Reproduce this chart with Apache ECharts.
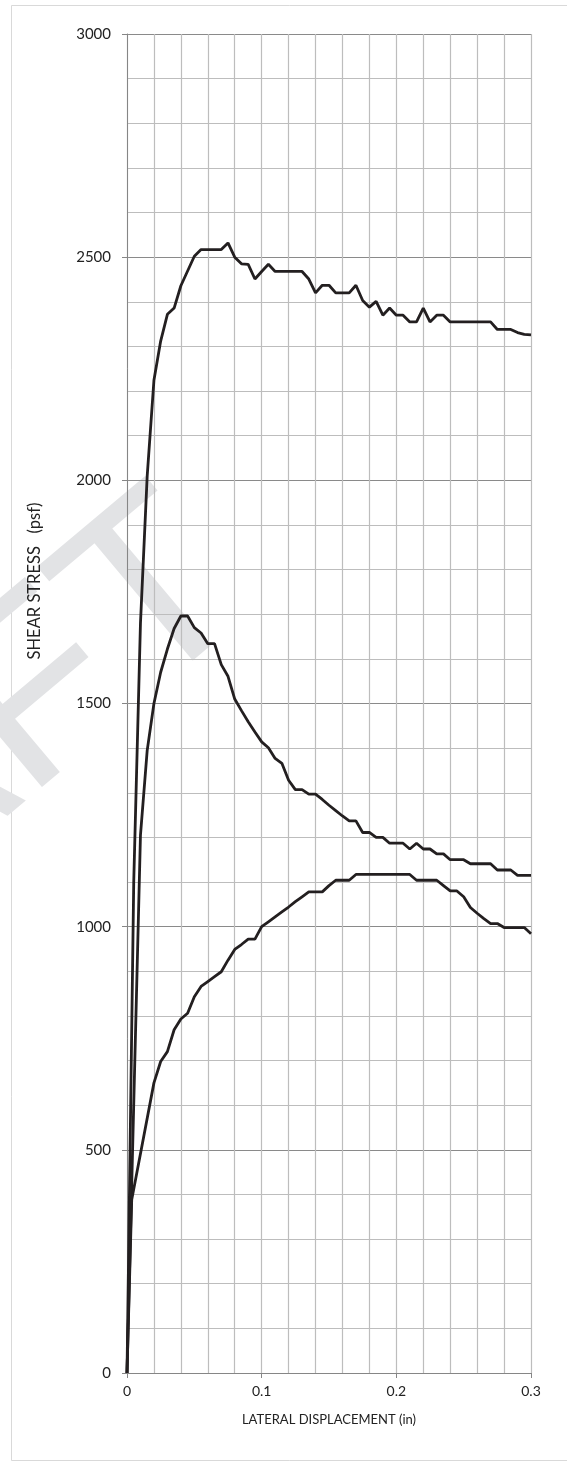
<!DOCTYPE html>
<html>
<head>
<meta charset="utf-8">
<script src="https://cdn.jsdelivr.net/npm/echarts@6/dist/echarts.min.js"></script>
<style>
html,body{margin:0;padding:0;background:#fff;}
#chart{width:567px;height:1466px;}
</style>
</head>
<body>
<div id="chart"></div>
<script>
// ---- data (lateral displacement in inches, shear stress in psf) ----
var xTickLabels = ['0', '0.1', '0.2', '0.3'];
var yTickLabels = ['0', '500', '1000', '1500', '2000', '2500', '3000'];

var topX = [0, 0.005, 0.01, 0.015, 0.02, 0.025, 0.03, 0.035, 0.04, 0.045, 0.05, 0.055, 0.06, 0.065, 0.07, 0.075, 0.08, 0.085, 0.09, 0.095, 0.1, 0.105, 0.11, 0.115, 0.12, 0.125, 0.13, 0.135, 0.14, 0.145, 0.15, 0.155, 0.16, 0.165, 0.17, 0.175, 0.18, 0.185, 0.19, 0.195, 0.2, 0.205, 0.21, 0.215, 0.22, 0.225, 0.23, 0.235, 0.24, 0.245, 0.25, 0.255, 0.26, 0.265, 0.27, 0.275, 0.28, 0.285, 0.29, 0.295, 0.3];
var topY = [0, 1100, 1680, 2010, 2224, 2312, 2372, 2386, 2436, 2469, 2502, 2517, 2517, 2517, 2517, 2532, 2500, 2485, 2484, 2451, 2468, 2484, 2468, 2468, 2468, 2468, 2468, 2451, 2420, 2437, 2437, 2420, 2420, 2420, 2437, 2403, 2388, 2401, 2370, 2386, 2370, 2370, 2355, 2355, 2386, 2355, 2370, 2370, 2355, 2355, 2355, 2355, 2355, 2355, 2355, 2338, 2338, 2338, 2331, 2327, 2326];

var midX = [0, 0.01, 0.015, 0.02, 0.025, 0.03, 0.035, 0.04, 0.045, 0.05, 0.055, 0.06, 0.065, 0.07, 0.075, 0.08, 0.085, 0.09, 0.095, 0.1, 0.105, 0.11, 0.115, 0.12, 0.125, 0.13, 0.135, 0.14, 0.145, 0.15, 0.155, 0.16, 0.165, 0.17, 0.175, 0.18, 0.185, 0.19, 0.195, 0.2, 0.205, 0.21, 0.215, 0.22, 0.225, 0.23, 0.235, 0.24, 0.245, 0.25, 0.255, 0.26, 0.265, 0.27, 0.275, 0.28, 0.285, 0.29, 0.295, 0.3];
var midY = [0, 1205, 1395, 1500, 1570, 1622, 1668, 1696, 1696, 1670, 1658, 1634, 1634, 1587, 1561, 1510, 1484, 1459, 1436, 1414, 1401, 1377, 1366, 1328, 1307, 1307, 1297, 1297, 1285, 1272, 1260, 1248, 1237, 1237, 1211, 1211, 1200, 1200, 1187, 1187, 1187, 1174, 1187, 1174, 1174, 1163, 1163, 1150, 1150, 1150, 1141, 1141, 1141, 1141, 1127, 1127, 1127, 1115, 1115, 1115];

var lowX = [0, 0.0035, 0.02, 0.025, 0.03, 0.035, 0.04, 0.045, 0.05, 0.055, 0.06, 0.065, 0.07, 0.075, 0.08, 0.085, 0.09, 0.095, 0.1, 0.105, 0.11, 0.115, 0.12, 0.125, 0.13, 0.135, 0.14, 0.145, 0.15, 0.155, 0.16, 0.165, 0.17, 0.175, 0.18, 0.185, 0.19, 0.195, 0.2, 0.205, 0.21, 0.215, 0.22, 0.225, 0.23, 0.235, 0.24, 0.245, 0.25, 0.255, 0.26, 0.265, 0.27, 0.275, 0.28, 0.285, 0.29, 0.295, 0.3];
var lowY = [0, 388, 650, 698, 720, 769, 793, 806, 843, 866, 877, 888, 899, 925, 949, 960, 972, 972, 1000, 1011, 1022, 1033, 1044, 1056, 1067, 1078, 1078, 1078, 1092, 1104, 1104, 1104, 1117, 1117, 1117, 1117, 1117, 1117, 1117, 1117, 1117, 1104, 1104, 1104, 1104, 1092, 1080, 1080, 1067, 1043, 1030, 1018, 1007, 1007, 998, 998, 998, 998, 984];

function pairs(xs, ys) { return xs.map(function (x, i) { return [x, ys[i]]; }); }

var chart = echarts.init(document.getElementById('chart'), null, {renderer: 'canvas'});
var FONT = 'Lato, "Open Sans", sans-serif';
var lineStyle = {color: '#231f20', width: 2.8};
var ang = 40 * Math.PI / 180;

chart.setOption({
  backgroundColor: '#fff',
  animation: false,
  grid: {left: 127, right: 36, top: 34, bottom: 93, containLabel: false},
  xAxis: {
    type: 'value', min: 0, max: 0.3, interval: 0.1,
    axisLine: {show: true, lineStyle: {color: '#868686', width: 1}},
    axisTick: {show: true, length: 5, lineStyle: {color: '#868686'}},
    axisLabel: {color: '#222', fontFamily: FONT, fontSize: 14, margin: 11,
      formatter: function (v) { return xTickLabels[Math.round(v * 10)]; }},
    splitLine: {show: true, lineStyle: {color: '#bdbdbd', width: 1.2}},
    minorTick: {show: false, splitNumber: 5},
    minorSplitLine: {show: true, lineStyle: {color: '#bdbdbd', width: 1.2}}
  },
  yAxis: {
    type: 'value', min: 0, max: 3000, interval: 500,
    axisLine: {show: true, lineStyle: {color: '#868686', width: 1}},
    axisTick: {show: true, length: 5, lineStyle: {color: '#868686'}},
    axisLabel: {color: '#222', fontFamily: FONT, fontSize: 15, margin: 16,
      formatter: function (v) { return yTickLabels[Math.round(v / 500)]; }},
    splitLine: {show: true, lineStyle: {color: '#8a8a8a', width: 1.2}},
    minorTick: {show: false, splitNumber: 5},
    minorSplitLine: {show: true, lineStyle: {color: '#bdbdbd', width: 1.2}}
  },
  graphic: [
    {type: 'rect', z: -10, shape: {x: 11.5, y: 5.5, width: 600, height: 1455},
      style: {fill: 'none', stroke: '#d9d9d9', lineWidth: 1}},
    {type: 'text', z: -1, x: 216, y: 551, rotation: ang,
      style: {text: 'DRAFT', fill: '#e2e3e5', font: '250px "Liberation Sans", sans-serif',
        textAlign: 'right', textVerticalAlign: 'middle'}},
    {type: 'text', z: 5, x: 35, y: 581, rotation: Math.PI / 2,
      style: {text: 'SHEAR STRESS   (psf)', fill: '#222', font: '16.5px ' + FONT,
        textAlign: 'center', textVerticalAlign: 'middle'}},
    {type: 'text', z: 5, x: 329, y: 1420,
      style: {text: 'LATERAL DISPLACEMENT (in)', fill: '#222', font: '13px ' + FONT,
        textAlign: 'center', textVerticalAlign: 'middle'}}
  ],
  series: [
    {type: 'line', data: pairs(topX, topY), showSymbol: false, lineStyle: lineStyle, z: 3},
    {type: 'line', data: pairs(midX, midY), showSymbol: false, lineStyle: lineStyle, z: 3},
    {type: 'line', data: pairs(lowX, lowY), showSymbol: false, lineStyle: lineStyle, z: 3}
  ]
});
</script>
</body>
</html>
